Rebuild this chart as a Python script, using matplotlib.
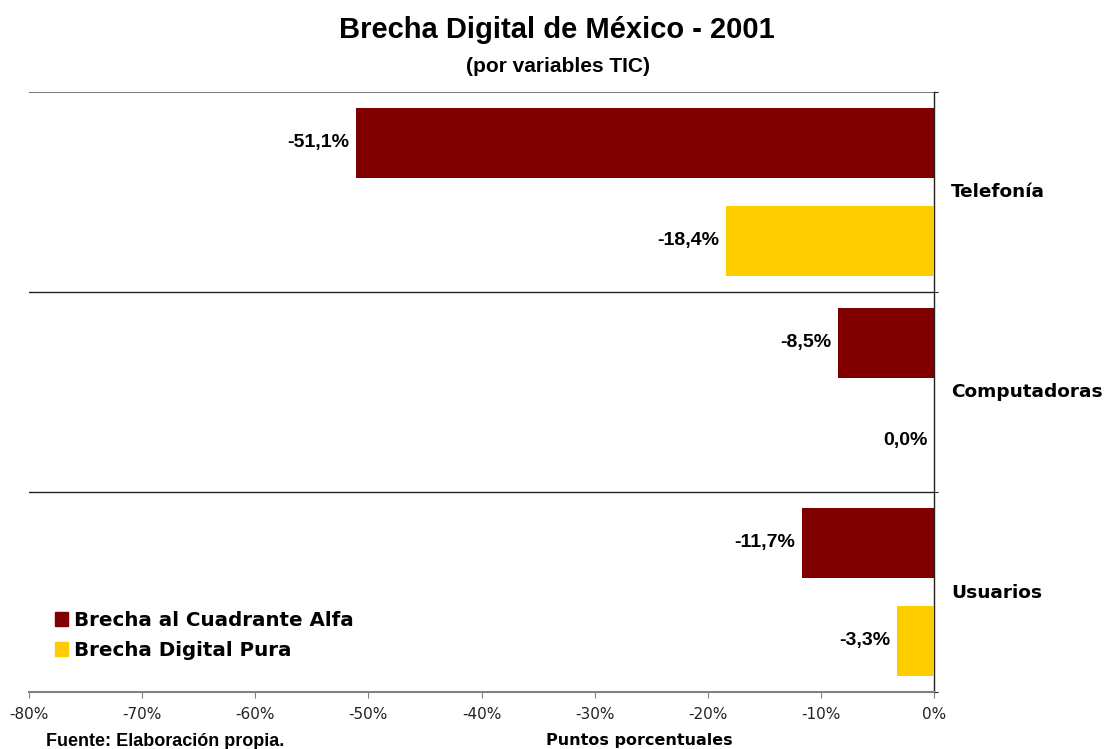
import matplotlib
matplotlib.use("Agg")
import matplotlib.pyplot as plt
import numpy as np
from matplotlib.patches import Patch

categories = ["Telefonía", "Computadoras", "Usuarios"]
brecha_alfa = [-51.1, -8.5, -11.7]
brecha_pura = [-18.4, 0.0, -3.3]
series_names = ["Brecha al Cuadrante Alfa", "Brecha Digital Pura"]
xticks = [-80, -70, -60, -50, -40, -30, -20, -10, 0]

col_alfa = "#800000"
col_pura = "#FFCC00"

fig = plt.figure(figsize=(11.07, 7.49), dpi=100)
ax = fig.add_axes([29/1107, 57/749, (934-29)/1107, 600/749])

y = np.arange(len(categories))
h = 0.35
ax.barh(y + 0.255, brecha_alfa, height=h, color=col_alfa, zorder=3)
ax.barh(y + 0.745, brecha_pura, height=h, color=col_pura, zorder=3)

for yy, vals in [(y + 0.255, brecha_alfa), (y + 0.745, brecha_pura)]:
    for yi, v in zip(yy, vals):
        ax.annotate(f"{v:.1f}%".replace(".", ","), (v, yi), xytext=(-4.5, 0),
                    textcoords="offset points", ha="right", va="center",
                    fontsize=14, fontweight="bold", family="Liberation Sans")

ax.set_xlim(-80, 0)
ax.set_ylim(3, 0)
for b in [0, 1, 2]:
    ax.axhline(b, color="#222222" if b else "#808080", lw=1.0 if b else 1.5, zorder=2)

for s in ["left", "top"]:
    ax.spines[s].set_visible(False)
ax.spines["bottom"].set_color("#808080")
ax.spines["bottom"].set_linewidth(1.5)
ax.spines["right"].set_color("#222222")
ax.spines["right"].set_linewidth(1.0)

ax.set_xticks(xticks)
ax.set_xticklabels([f"{t}%" for t in xticks], fontsize=11, family="DejaVu Sans", color="#222222")
ax.tick_params(axis="x", direction="out", length=4, color="#808080", pad=7)
ax.yaxis.tick_right()
ax.set_yticks([0, 1, 2, 3])
ax.set_yticklabels([])
ax.tick_params(axis="y", length=3, color="#222222", direction="out")

for i, c in enumerate(categories):
    fig.text(951/1107, 1 - (192 + 200.5*i)/749, c, ha="left", va="center",
             fontsize=13.3, fontweight="bold", family="DejaVu Sans")

handles = [Patch(color=col_alfa), Patch(color=col_pura)]
leg = fig.legend(handles, series_names, loc="upper left",
                 bbox_to_anchor=(55/1107, 1 - 611/749), frameon=False,
                 prop=dict(family="DejaVu Sans", weight="bold", size=14.3),
                 handlelength=0.65, handleheight=0.65, handletextpad=0.3,
                 labelspacing=0.55, borderpad=0, borderaxespad=0)

fig.text(557/1107, 1 - 30/749, "Brecha Digital de México - 2001", ha="center", va="center",
         fontsize=21, fontweight="bold", family="Liberation Sans")
fig.text(558/1107, 1 - 66/749, "(por variables TIC)", ha="center", va="center",
         fontsize=15, fontweight="bold", family="Liberation Sans")
fig.text(46/1107, 1 - 741/749, "Fuente: Elaboración propia.", ha="left", va="center",
         fontsize=13, fontweight="bold", family="Liberation Sans")
fig.text(639/1107, 1 - 741/749, "Puntos porcentuales", ha="center", va="center",
         fontsize=11.5, fontweight="bold", family="DejaVu Sans")

fig.savefig("out.png", dpi=100)
